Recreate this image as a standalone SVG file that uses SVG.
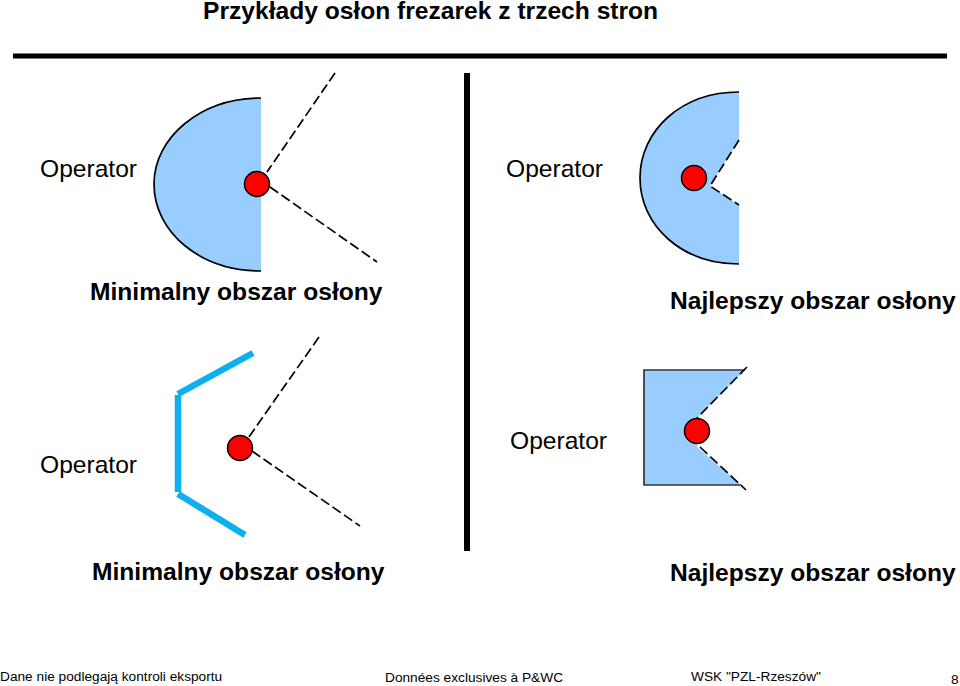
<svg xmlns="http://www.w3.org/2000/svg" width="960" height="686" viewBox="0 0 960 686">
<style>
text{font-family:"Liberation Sans",Arial,sans-serif;fill:#000}
.t{font-size:24.6px}
.b{font-size:24.6px;font-weight:bold}
.h{font-size:24.6px;font-weight:bold}
.f{font-size:13.7px}
.d{stroke:#000;stroke-width:1.7;stroke-dasharray:10 4;fill:none}
.g{fill:#99ccff;stroke:none}
.e{fill:none;stroke:#000;stroke-width:1.7}
.c{fill:#ff0000;stroke:#000;stroke-width:1.5}
.s{stroke:#0cb0ec;stroke-width:6.5;fill:none}
</style>
<rect width="960" height="686" fill="#fff"/>
<g id="title"><text class="h" x="203" y="19">Przykłady osłon frezarek z trzech stron</text></g>
<g id="dividers"><rect x="13" y="53.500" width="934" height="5"/><rect x="464" y="73" width="6" height="478"/></g>
<g id="connectors">
<path class="d" d="M335 73L267 172M270 187L377 262"/>
<path class="d" d="M319 337L244 444M252 451L360 526"/>
</g>
<g id="guard-top-left">
<path class="g" d="M261 98C200 98 154 138 154 184C154 232 200 271 261 271Z"/>
<path class="e" d="M261 98C200 98 154 138 154 184C154 232 200 271 261 271"/>
<circle class="c" cx="257" cy="184" r="12.500"/>
</g>
<g id="guard-top-right">
<path class="g" d="M739 92C682 92 640 130 640 178C640 226 682 264 739 264V205L710 186L739 140Z"/>
<path class="e" d="M739 92C682 92 640 130 640 178C640 226 682 264 739 264"/>
<path class="d" d="M739 140L710 186L739 205" stroke-dasharray="6 3"/>
<circle class="c" cx="694" cy="178" r="12.500"/>
</g>
<g id="guard-bottom-left">
<path class="s" d="M253 353L178 394M178 395V492M178 494L245 535"/>
<circle class="c" cx="240" cy="448" r="12.500"/>
</g>
<g id="guard-bottom-right">
<path class="g" d="M644 370H745L697 418V447L741 485H644Z"/>
<path fill="none" stroke="#334" stroke-width="1.700" d="M745 370H644V485H741"/>
<path class="d" d="M747 367L697 418M700 447L746 490" stroke-dasharray="6 3"/>
<circle class="c" cx="697" cy="431" r="12.500"/>
</g>
<g id="labels">
<text class="t" x="40" y="177">Operator</text>
<text class="t" x="506" y="177">Operator</text>
<text class="t" x="40" y="473">Operator</text>
<text class="t" x="510" y="449">Operator</text>
<text class="b" x="90" y="300">Minimalny obszar osłony</text>
<text class="b" x="670" y="309">Najlepszy obszar osłony</text>
<text class="b" x="92" y="580">Minimalny obszar osłony</text>
<text class="b" x="670" y="581">Najlepszy obszar osłony</text>
<text class="f" x="0" y="681">Dane nie podlegają kontroli eksportu</text>
<text class="f" x="385" y="682">Données exclusives à P&amp;WC</text>
<text class="f" x="691" y="681">WSK "PZL-Rzeszów"</text>
<text class="f" x="951" y="684">8</text>
</g>
</svg>
